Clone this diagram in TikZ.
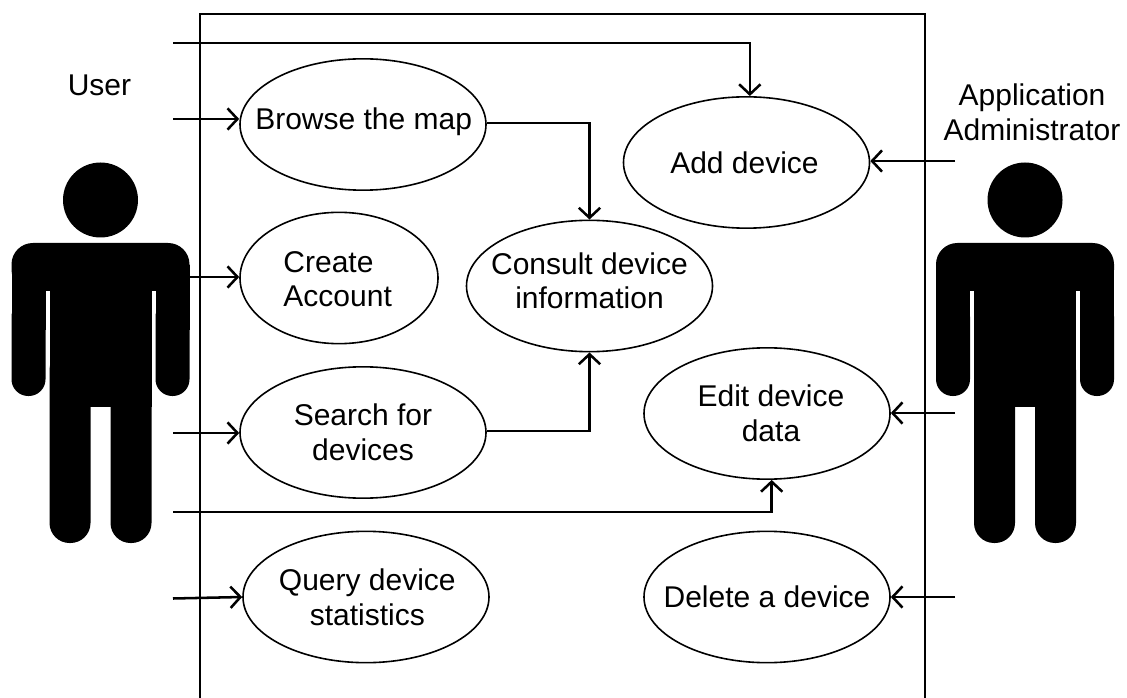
\documentclass[tikz,border=0pt]{standalone}
\usepackage{fontspec}
\setmainfont{Liberation Sans}
\usetikzlibrary{shapes.geometric, arrows.meta}

\tikzset{
  usecase/.style={ellipse, draw, line width=1.2pt, inner sep=0pt, minimum width=184.5pt, minimum height=98.5pt},
  every label/.style={align=center},
  person/.pic={
    \fill (0,0) circle [radius=37.5];
    \fill [rounded corners=16pt] (-89,43) rectangle (89,91);
    \fill (-89,65) rectangle (-55,130);
    \fill (55,65) rectangle (89,130);
    \fill [rounded corners=12.5pt] (-89,100) rectangle (-55,196);
    \fill [rounded corners=12.5pt] (55,100) rectangle (89,196);
    \fill (-51,80) rectangle (51,207);
    \fill [rounded corners=15pt] (-51,150) rectangle (-10,343);
    \fill [rounded corners=15pt] (10,150) rectangle (51,343);
  }
}

\begin{document}
\begin{tikzpicture}[x=0.75pt,y=-0.75pt,->,>={Straight Barb[length=7.5pt,width=16pt]},line width=1.9pt,
    font=\fontsize{22.5}{26}\selectfont]
      \useasboundingbox (0,0) rectangle (1127,698);

      % the two actors
      \pic at (100.5,200) {person};
      \pic at (1025,200) {person};
      \node (user)  at (99.5,85)   {User};
      \node (admin) at (1032,112) [align=center] {Application\\Administrator};

      % system boundary
      \draw [-,line width=2.2pt] (200,705) -- (200,14) -- (925,14) -- (925,705);

      % use cases
      \node [usecase, label={[yshift=2pt,xshift=0.5pt]center:Browse the map}] (browse) at (363,124.5) {};
      \node [usecase, minimum width=148.5pt, label={[align=left,yshift=-1pt,xshift=-1pt]center:Create\\Account}] (create) at (339,278) {};
      \node [usecase, label={[yshift=4pt]center:Consult device\\information}] (consult) at (589.5,286) {};
      \node [usecase, label={center:Search for\\devices}] (search) at (363,432.5) {};
      \node [usecase, label={[xshift=1pt]center:Query device\\statistics}] (query) at (366,597) {};
      \node [usecase, label={[xshift=-1.5pt]center:Add device}] (add) at (746.5,162.5) {};
      \node [usecase, label={[xshift=3pt]center:Edit device\\data}] (edit) at (767,413.5) {};
      \node [usecase, label={center:Delete a device}] (delete) at (767,597) {};

      % free ends of the connectors
      \coordinate (uadd)    at (173,43);
      \coordinate (ubrowse) at (173,119);
      \coordinate (ucreate) at (189,277);
      \coordinate (usearch) at (173,433);
      \coordinate (uedit)   at (173,512);
      \coordinate (uquery)  at (173,598.5);
      \coordinate (aadd)    at (955,161);
      \coordinate (aedit)   at (955,413);
      \coordinate (adelete) at (955,597);

      \draw (uadd) -| ([xshift=2.5pt]add.north);
      \draw (uedit) -| ([xshift=3.5pt]edit.south);
      \draw (browse.east) ++(0,-1.5) -| (consult.north);
      \draw (search.east) ++(0,-1.5) -| (consult.south);

      \path
        (ubrowse) edge (browse.west |- ubrowse)
        (ucreate) edge (create.west |- ucreate)
        (usearch) edge (search.west |- usearch)
        (uquery)  edge (query.west)
        (aadd)    edge (add.east |- aadd)
        (aedit)   edge (edit.east |- aedit)
        (adelete) edge (delete.east |- adelete);
    \end{tikzpicture}
\end{document}
